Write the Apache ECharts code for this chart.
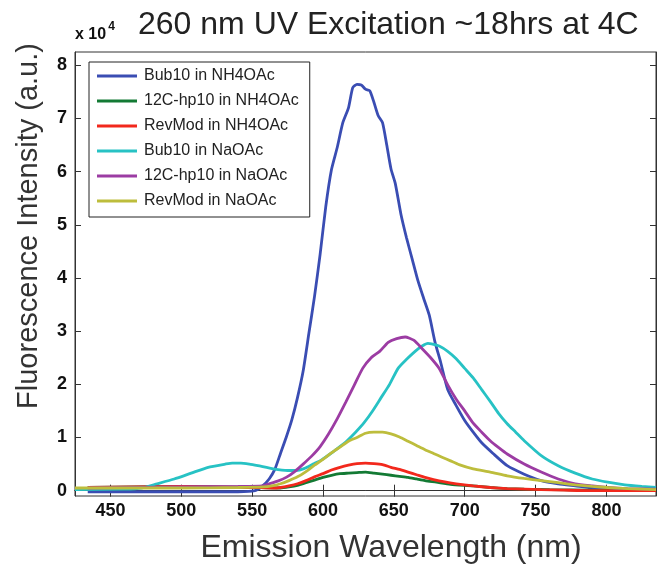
<!DOCTYPE html>
<html>
<head>
<meta charset="utf-8">
<script src="https://cdn.jsdelivr.net/npm/echarts@6/dist/echarts.min.js"></script>
<style>html,body{margin:0;padding:0;background:#fff}#c{width:658px;height:567px}</style>
</head>
<body>
<div id="c"></div>
<script>
// ---- data (intensity in units of 1e4 a.u.) ----
const xTicks = [450, 500, 550, 600, 650, 700, 750, 800];
const yTicks = [0, 1, 2, 3, 4, 5, 6, 7, 8];

const seriesNames = ['Bub10 in NH4OAc', '12C-hp10 in NH4OAc', 'RevMod in NH4OAc', 'Bub10 in NaOAc', '12C-hp10 in NaOAc', 'RevMod in NaOAc'];

const bubNH4_wl = [434, 460, 500, 540, 552, 557, 562, 566, 570, 574, 578, 582, 586, 590, 594, 598, 602, 606, 610, 614, 618, 621, 624, 627, 630, 633, 636, 639, 642, 645, 648, 651, 655, 659, 663, 667, 671, 675, 679, 683, 688, 694, 700, 706, 712, 720, 730, 742, 754, 766, 778, 790, 801, 815, 835];
const bubNH4_val = [-0.02, -0.02, -0.02, -0.02, 0.0, 0.08, 0.22, 0.40, 0.70, 1.00, 1.33, 1.75, 2.25, 2.95, 3.65, 4.45, 5.35, 6.04, 6.45, 6.92, 7.20, 7.58, 7.64, 7.63, 7.55, 7.52, 7.30, 7.05, 6.92, 6.50, 6.05, 5.78, 5.20, 4.75, 4.35, 3.95, 3.62, 3.30, 2.80, 2.42, 1.90, 1.60, 1.32, 1.10, 0.90, 0.70, 0.47, 0.31, 0.19, 0.13, 0.09, 0.05, 0.03, 0.02, 0.02];

const hpNH4_wl = [434, 500, 550, 570, 576, 582, 588, 594, 600, 606, 612, 618, 624, 630, 636, 642, 648, 654, 660, 666, 672, 680, 690, 706, 718, 730, 742, 760, 790, 835];
const hpNH4_val = [0.06, 0.08, 0.06, 0.05, 0.07, 0.10, 0.15, 0.20, 0.25, 0.29, 0.32, 0.33, 0.34, 0.35, 0.33, 0.31, 0.29, 0.27, 0.25, 0.22, 0.19, 0.16, 0.12, 0.09, 0.06, 0.04, 0.03, 0.02, 0.01, 0.0];

const revNH4_wl = [434, 500, 550, 565, 570, 576, 582, 588, 594, 600, 606, 612, 618, 624, 630, 636, 642, 648, 654, 660, 666, 672, 678, 685, 694, 706, 718, 730, 742, 754, 770, 790, 810, 835];
const revNH4_val = [0.06, 0.08, 0.06, 0.05, 0.06, 0.09, 0.13, 0.19, 0.26, 0.32, 0.39, 0.44, 0.48, 0.51, 0.52, 0.51, 0.49, 0.44, 0.40, 0.35, 0.30, 0.25, 0.21, 0.17, 0.13, 0.09, 0.06, 0.04, 0.03, 0.02, 0.01, 0.0, 0.0, 0.0];

const bubNa_wl = [425, 460, 472, 483, 495, 507, 519, 531, 536, 542, 548, 554, 565, 575, 581, 587, 593, 599, 605, 611, 617, 623, 629, 635, 641, 647, 653, 659, 665, 670, 674, 678, 682, 688, 694, 700, 706, 712, 718, 724, 730, 736, 742, 754, 766, 778, 790, 801, 813, 825, 835];
const bubNa_val = [0.02, 0.03, 0.05, 0.13, 0.22, 0.33, 0.44, 0.50, 0.52, 0.52, 0.50, 0.47, 0.41, 0.38, 0.38, 0.42, 0.50, 0.58, 0.69, 0.81, 0.94, 1.10, 1.28, 1.50, 1.75, 2.00, 2.30, 2.47, 2.62, 2.72, 2.77, 2.75, 2.72, 2.62, 2.48, 2.30, 2.12, 1.90, 1.68, 1.45, 1.26, 1.10, 0.94, 0.66, 0.47, 0.33, 0.22, 0.16, 0.11, 0.08, 0.06];

const hpNa_wl = [434, 500, 540, 557, 562, 568, 574, 580, 586, 592, 598, 604, 610, 616, 622, 628, 634, 640, 646, 652, 658, 664, 670, 676, 682, 688, 694, 700, 706, 712, 718, 724, 730, 742, 754, 766, 778, 790, 801, 815, 835];
const hpNa_val = [0.05, 0.07, 0.08, 0.09, 0.13, 0.18, 0.25, 0.36, 0.50, 0.65, 0.83, 1.07, 1.35, 1.66, 1.98, 2.30, 2.50, 2.62, 2.79, 2.86, 2.89, 2.83, 2.67, 2.50, 2.30, 1.99, 1.72, 1.50, 1.27, 1.10, 0.94, 0.81, 0.69, 0.50, 0.35, 0.22, 0.13, 0.09, 0.06, 0.04, 0.03];

const revNa_wl = [425, 500, 540, 558, 564, 570, 576, 582, 588, 594, 600, 606, 612, 618, 624, 630, 636, 642, 648, 654, 660, 666, 672, 678, 684, 690, 696, 706, 718, 730, 742, 754, 766, 778, 790, 801, 815, 835];
const revNa_val = [0.05, 0.05, 0.06, 0.07, 0.09, 0.13, 0.19, 0.26, 0.36, 0.48, 0.59, 0.71, 0.82, 0.93, 1.00, 1.08, 1.10, 1.10, 1.07, 1.01, 0.93, 0.85, 0.77, 0.70, 0.63, 0.56, 0.49, 0.41, 0.35, 0.28, 0.23, 0.19, 0.15, 0.11, 0.08, 0.06, 0.04, 0.02];

const colors = ['#3a4db3', '#137a34', '#f2281c', '#27c2c4', '#9c3ca3', '#bdbd3c'];

const wlList = [bubNH4_wl, hpNH4_wl, revNH4_wl, bubNa_wl, hpNa_wl, revNa_wl];
const valList = [bubNH4_val, hpNH4_val, revNH4_val, bubNa_val, hpNa_val, revNa_val];

const FONT = 'Liberation Sans, Arial, sans-serif';

const series = seriesNames.map((n, i) => ({
  name: n,
  type: 'line',
  xAxisIndex: 0,
  yAxisIndex: 0,
  showSymbol: false,
  symbol: 'none',
  smooth: 0.2,
  data: wlList[i].map((w, k) => [w, valList[i][k]]),
  lineStyle: { width: 2.8, color: colors[i] },
  itemStyle: { color: colors[i] },
  z: 2 + i
}));

const chart = echarts.init(document.getElementById('c'), null, { renderer: 'canvas' });
const axisLineStyle = { color: '#333', width: 1 };
chart.setOption({
  animation: false,
  backgroundColor: '#fff',
  grid: { left: 75, right: 2, top: 52, bottom: 71, show: true, borderColor: '#333', borderWidth: 1, backgroundColor: 'transparent' },
  legend: {
    data: seriesNames,
    orient: 'vertical',
    left: 89, top: 62,
    icon: 'rect',
    itemWidth: 40, itemHeight: 3,
    itemGap: 9,
    padding: [6, 11, 8, 8],
    borderColor: '#222', borderWidth: 1,
    backgroundColor: '#fff',
    textStyle: { fontFamily: FONT, fontSize: 16, color: '#222', padding: [0, 0, 0, 2] }
  },
  xAxis: [{
    type: 'value', min: 425, max: 835, position: 'bottom',
    axisLine: { show: true, lineStyle: axisLineStyle },
    axisTick: { show: true, inside: true, length: 6, lineStyle: axisLineStyle, customValues: xTicks },
    axisLabel: { show: true, customValues: xTicks, fontFamily: FONT, fontWeight: 'bold', fontSize: 18, color: '#111', margin: 6 },
    splitLine: { show: false }
  }, {
    type: 'value', min: 425, max: 835, position: 'top',
    axisLine: { show: true, lineStyle: axisLineStyle },
    axisTick: { show: true, inside: true, length: 6, lineStyle: axisLineStyle, customValues: xTicks },
    axisLabel: { show: false }, splitLine: { show: false }
  }],
  yAxis: [{
    type: 'value', min: -0.1, max: 8.25, position: 'left',
    axisLine: { show: true, lineStyle: axisLineStyle },
    axisTick: { show: true, inside: true, length: 6, lineStyle: axisLineStyle, customValues: yTicks },
    axisLabel: { show: true, customValues: yTicks, fontFamily: FONT, fontWeight: 'bold', fontSize: 18, color: '#111', margin: 8 },
    splitLine: { show: false }
  }, {
    type: 'value', min: -0.1, max: 8.25, position: 'right',
    axisLine: { show: true, lineStyle: axisLineStyle },
    axisTick: { show: true, inside: true, length: 6, lineStyle: axisLineStyle, customValues: yTicks },
    axisLabel: { show: false }, splitLine: { show: false }
  }],
  graphic: [{
    type: 'text', left: 138, top: 9,
    style: { text: '260 nm UV Excitation ~18hrs at 4C', font: '32px ' + FONT, fill: '#222' }
  }, {
    type: 'text', left: 75, top: 21,
    style: {
      text: '{a|x 10}{b|4}',
      rich: {
        a: { font: 'bold 16px ' + FONT, fill: '#111', verticalAlign: 'bottom' },
        b: { font: 'bold 12px ' + FONT, fill: '#111', padding: [0, 0, 10, 2] }
      }
    }
  }, {
    type: 'text', x: 391, y: 548,
    style: { text: 'Emission Wavelength (nm)', font: '32px ' + FONT, fill: '#333', align: 'center', verticalAlign: 'middle' }
  }, {
    type: 'text', x: 29, y: 226, rotation: Math.PI / 2,
    style: { text: 'Fluorescence Intensity (a.u.)', font: '29px ' + FONT, fill: '#333', align: 'center', verticalAlign: 'middle' }
  }],
  series: series
});
</script>
</body>
</html>
